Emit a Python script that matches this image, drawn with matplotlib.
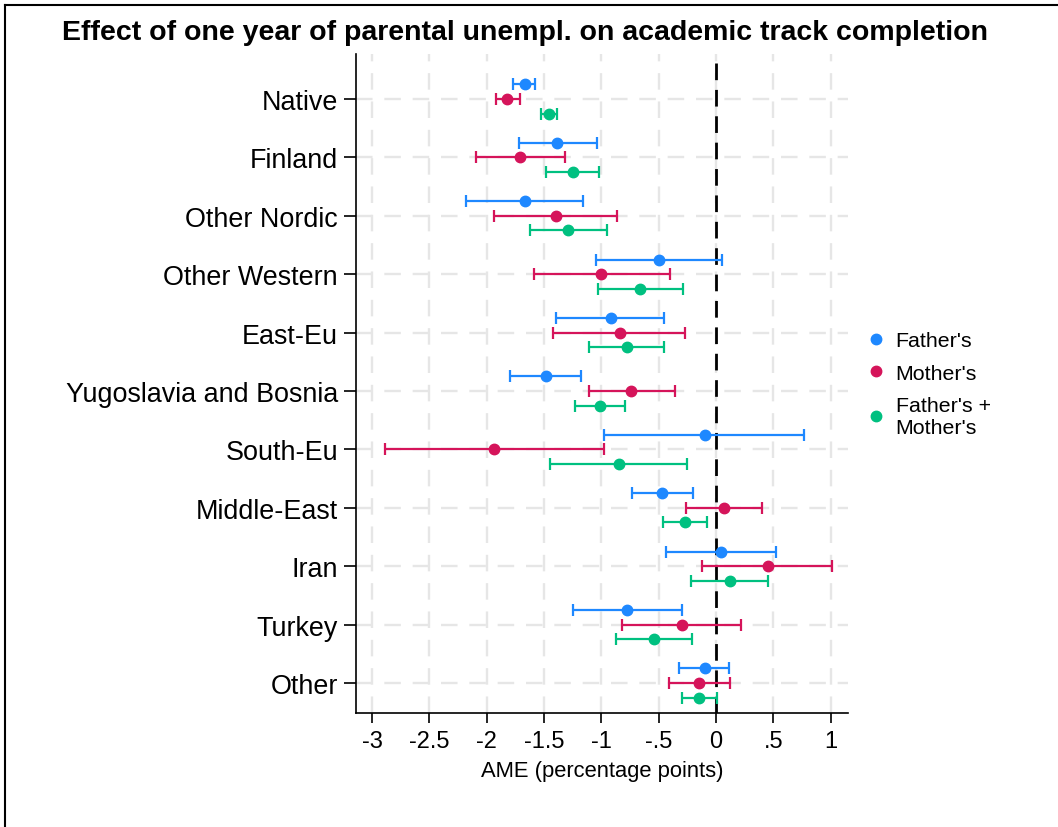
import matplotlib
matplotlib.use("Agg")
import matplotlib.pyplot as plt
import numpy as np
from matplotlib.lines import Line2D

plt.rcParams['font.family'] = ['Liberation Sans', 'DejaVu Sans']

categories = ["Native", "Finland", "Other Nordic", "Other Western", "East-Eu",
              "Yugoslavia and Bosnia", "South-Eu", "Middle-East", "Iran",
              "Turkey", "Other"]

father_est = [-1.67, -1.39, -1.67, -0.50, -0.92, -1.48, -0.10, -0.47, 0.04, -0.78, -0.10]
father_lo = [-1.77, -1.72, -2.18, -1.05, -1.40, -1.80, -0.98, -0.73, -0.44, -1.25, -0.32]
father_hi = [-1.58, -1.04, -1.16, 0.05, -0.45, -1.18, 0.77, -0.20, 0.52, -0.30, 0.11]

mother_est = [-1.82, -1.71, -1.40, -1.00, -0.84, -0.74, -1.94, 0.07, 0.45, -0.30, -0.15]
mother_lo = [-1.92, -2.09, -1.94, -1.59, -1.42, -1.11, -2.89, -0.26, -0.12, -0.82, -0.41]
mother_hi = [-1.71, -1.32, -0.86, -0.40, -0.27, -0.36, -0.98, 0.40, 1.01, 0.22, 0.12]

both_est = [-1.46, -1.25, -1.29, -0.66, -0.78, -1.01, -0.85, -0.27, 0.12, -0.54, -0.15]
both_lo = [-1.53, -1.48, -1.62, -1.03, -1.11, -1.23, -1.45, -0.46, -0.22, -0.87, -0.30]
both_hi = [-1.39, -1.02, -0.95, -0.29, -0.45, -0.79, -0.25, -0.08, 0.45, -0.21, 0.01]

x_ticks = [-3, -2.5, -2, -1.5, -1, -0.5, 0, 0.5, 1]
x_tick_labels = ["-3", "-2.5", "-2", "-1.5", "-1", "-.5", "0", ".5", "1"]

series = [
    ("Father's", father_est, father_lo, father_hi, "#1E88FF", -0.25),
    ("Mother's", mother_est, mother_lo, mother_hi, "#D5145A", 0.0),
    ("Father's +\nMother's", both_est, both_lo, both_hi, "#00C080", 0.25),
]

fig = plt.figure(figsize=(10.58, 8.28), dpi=100)
ax = fig.add_axes([356 / 1058, 1 - 714 / 828, (848 - 356) / 1058, (714 - 55) / 828])

ypos = np.arange(len(categories))
grid_kw = dict(color="#E6E6E6", lw=1.7, dashes=(7, 5), zorder=0)
for xt in x_ticks:
    ax.axvline(xt, **grid_kw)
for yp in ypos:
    ax.axhline(yp, **grid_kw)

ax.axvline(0, color="black", lw=2.0, dashes=(6, 3.5), zorder=1.5)

handles = []
for label, est, lo, hi, color, off in series:
    est = np.array(est)
    lo = np.array(lo)
    hi = np.array(hi)
    y = ypos + off
    ax.errorbar(est, y, xerr=[est - lo, hi - est], fmt="none", ecolor=color,
                elinewidth=1.6, capsize=4.5, capthick=1.6, zorder=2)
    ax.plot(est, y, "o", color=color, markersize=7.5, zorder=3)
    handles.append(Line2D([], [], marker="o", color=color, linestyle="none",
                          markersize=7.5, label=label))

ax.set_xlim(-3.141, 1.152)
ax.set_ylim(10.514, -0.77)
ax.set_xticks(x_ticks)
ax.set_xticklabels(x_tick_labels, fontsize=17)
ax.set_yticks(ypos)
ax.set_yticklabels(categories, fontsize=19.4)
ax.tick_params(axis="y", length=9, width=1.2, pad=4)
ax.tick_params(axis="x", length=7, width=1.2, pad=5)
for side in ("top", "right"):
    ax.spines[side].set_visible(False)
for side in ("left", "bottom"):
    ax.spines[side].set_linewidth(1.2)
ax.set_xlabel("AME (percentage points)", fontsize=15.8, labelpad=6)

fig.legend(handles=handles, loc="center left", bbox_to_anchor=(855 / 1058, 1 - 385 / 828),
           frameon=False, fontsize=15.4, handletextpad=0.4, labelspacing=0.63,
           borderpad=0, handlelength=1.0)

fig.suptitle("Effect of one year of parental unempl. on academic track completion",
             x=0.496, y=1 - 33 / 828, va="center", fontsize=20.5, fontweight="bold")

# outer frame lines along the left and top edges
fig.add_artist(Line2D([5 / 1058, 5 / 1058], [0, 1 - 6 / 828], color="black", lw=1.5,
                      transform=fig.transFigure))
fig.add_artist(Line2D([5 / 1058, 1], [1 - 6 / 828, 1 - 6 / 828], color="black", lw=1.5,
                      transform=fig.transFigure))

fig.savefig("out.png", dpi=100)
